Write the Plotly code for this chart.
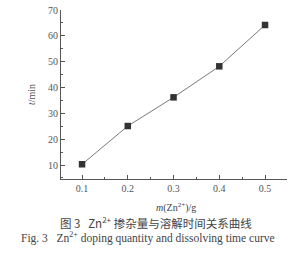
import plotly.graph_objects as go

mass = [0.1, 0.2, 0.3, 0.4, 0.5]
time_min = [10.3, 25.1, 36.2, 48.2, 64.2]
x_ticks = [0.1, 0.2, 0.3, 0.4, 0.5]
x_tick_labels = ["0.1", "0.2", "0.3", "0.4", "0.5"]
y_ticks = [10, 20, 30, 40, 50, 60, 70]

serif = "Liberation Serif, Times New Roman, serif"
ink = "#3a3a3a"

fig = go.Figure()
fig.add_trace(go.Scatter(
    x=mass, y=time_min, mode="lines+markers",
    line=dict(color="#7a7a7a", width=1),
    marker=dict(symbol="square", size=6.5, color="#333333"),
    showlegend=False,
))

fig.update_layout(
    width=291, height=253,
    margin=dict(l=61, r=4, t=8, b=74),
    paper_bgcolor="white", plot_bgcolor="white",
    font=dict(family=serif, size=10, color=ink),
    xaxis=dict(
        range=[0.054, 0.548], tickvals=x_ticks, ticktext=x_tick_labels,
        showline=True, linecolor="#555", linewidth=1, showgrid=False, zeroline=False,
        ticks="inside", ticklen=4, tickcolor="#555",
        minor=dict(ticks="inside", ticklen=2, tickcolor="#555", dtick=0.05),
        tickfont=dict(family=serif, size=10, color="#555"),
    ),
    yaxis=dict(
        range=[4.6, 70], tickvals=y_ticks,
        showline=True, linecolor="#555", linewidth=1, showgrid=False, zeroline=False,
        ticks="inside", ticklen=4, tickcolor="#555",
        minor=dict(ticks="inside", ticklen=2, tickcolor="#555", dtick=5),
        tickfont=dict(family=serif, size=10, color="#555"),
        title=dict(text="<i>t</i>/min", font=dict(family=serif, size=10, color="#555"), standoff=10),
    ),
)

fig.add_annotation(text="<i>m</i>(Zn<sup>2+</sup>)/g", xref="paper", yref="paper",
                   x=0.51, y=-0.17, xanchor="center", yanchor="middle", showarrow=False,
                   font=dict(family=serif, size=10, color="#444"))
fig.add_annotation(text="图 3   Zn<sup>2+</sup> 掺杂量与溶解时间关系曲线", xref="paper", yref="paper",
                   x=0.42, y=-0.255, xanchor="center", yanchor="middle", showarrow=False,
                   font=dict(family="Noto Sans CJK SC, " + serif, size=11.5, color="#444"))
fig.add_annotation(text="Fig. 3   Zn<sup>2+</sup> doping quantity and dissolving time curve", xref="paper", yref="paper",
                   x=0.383, y=-0.345, xanchor="center", yanchor="middle", showarrow=False,
                   font=dict(family=serif, size=11.5, color="#444"))

fig.write_html("out.html")
